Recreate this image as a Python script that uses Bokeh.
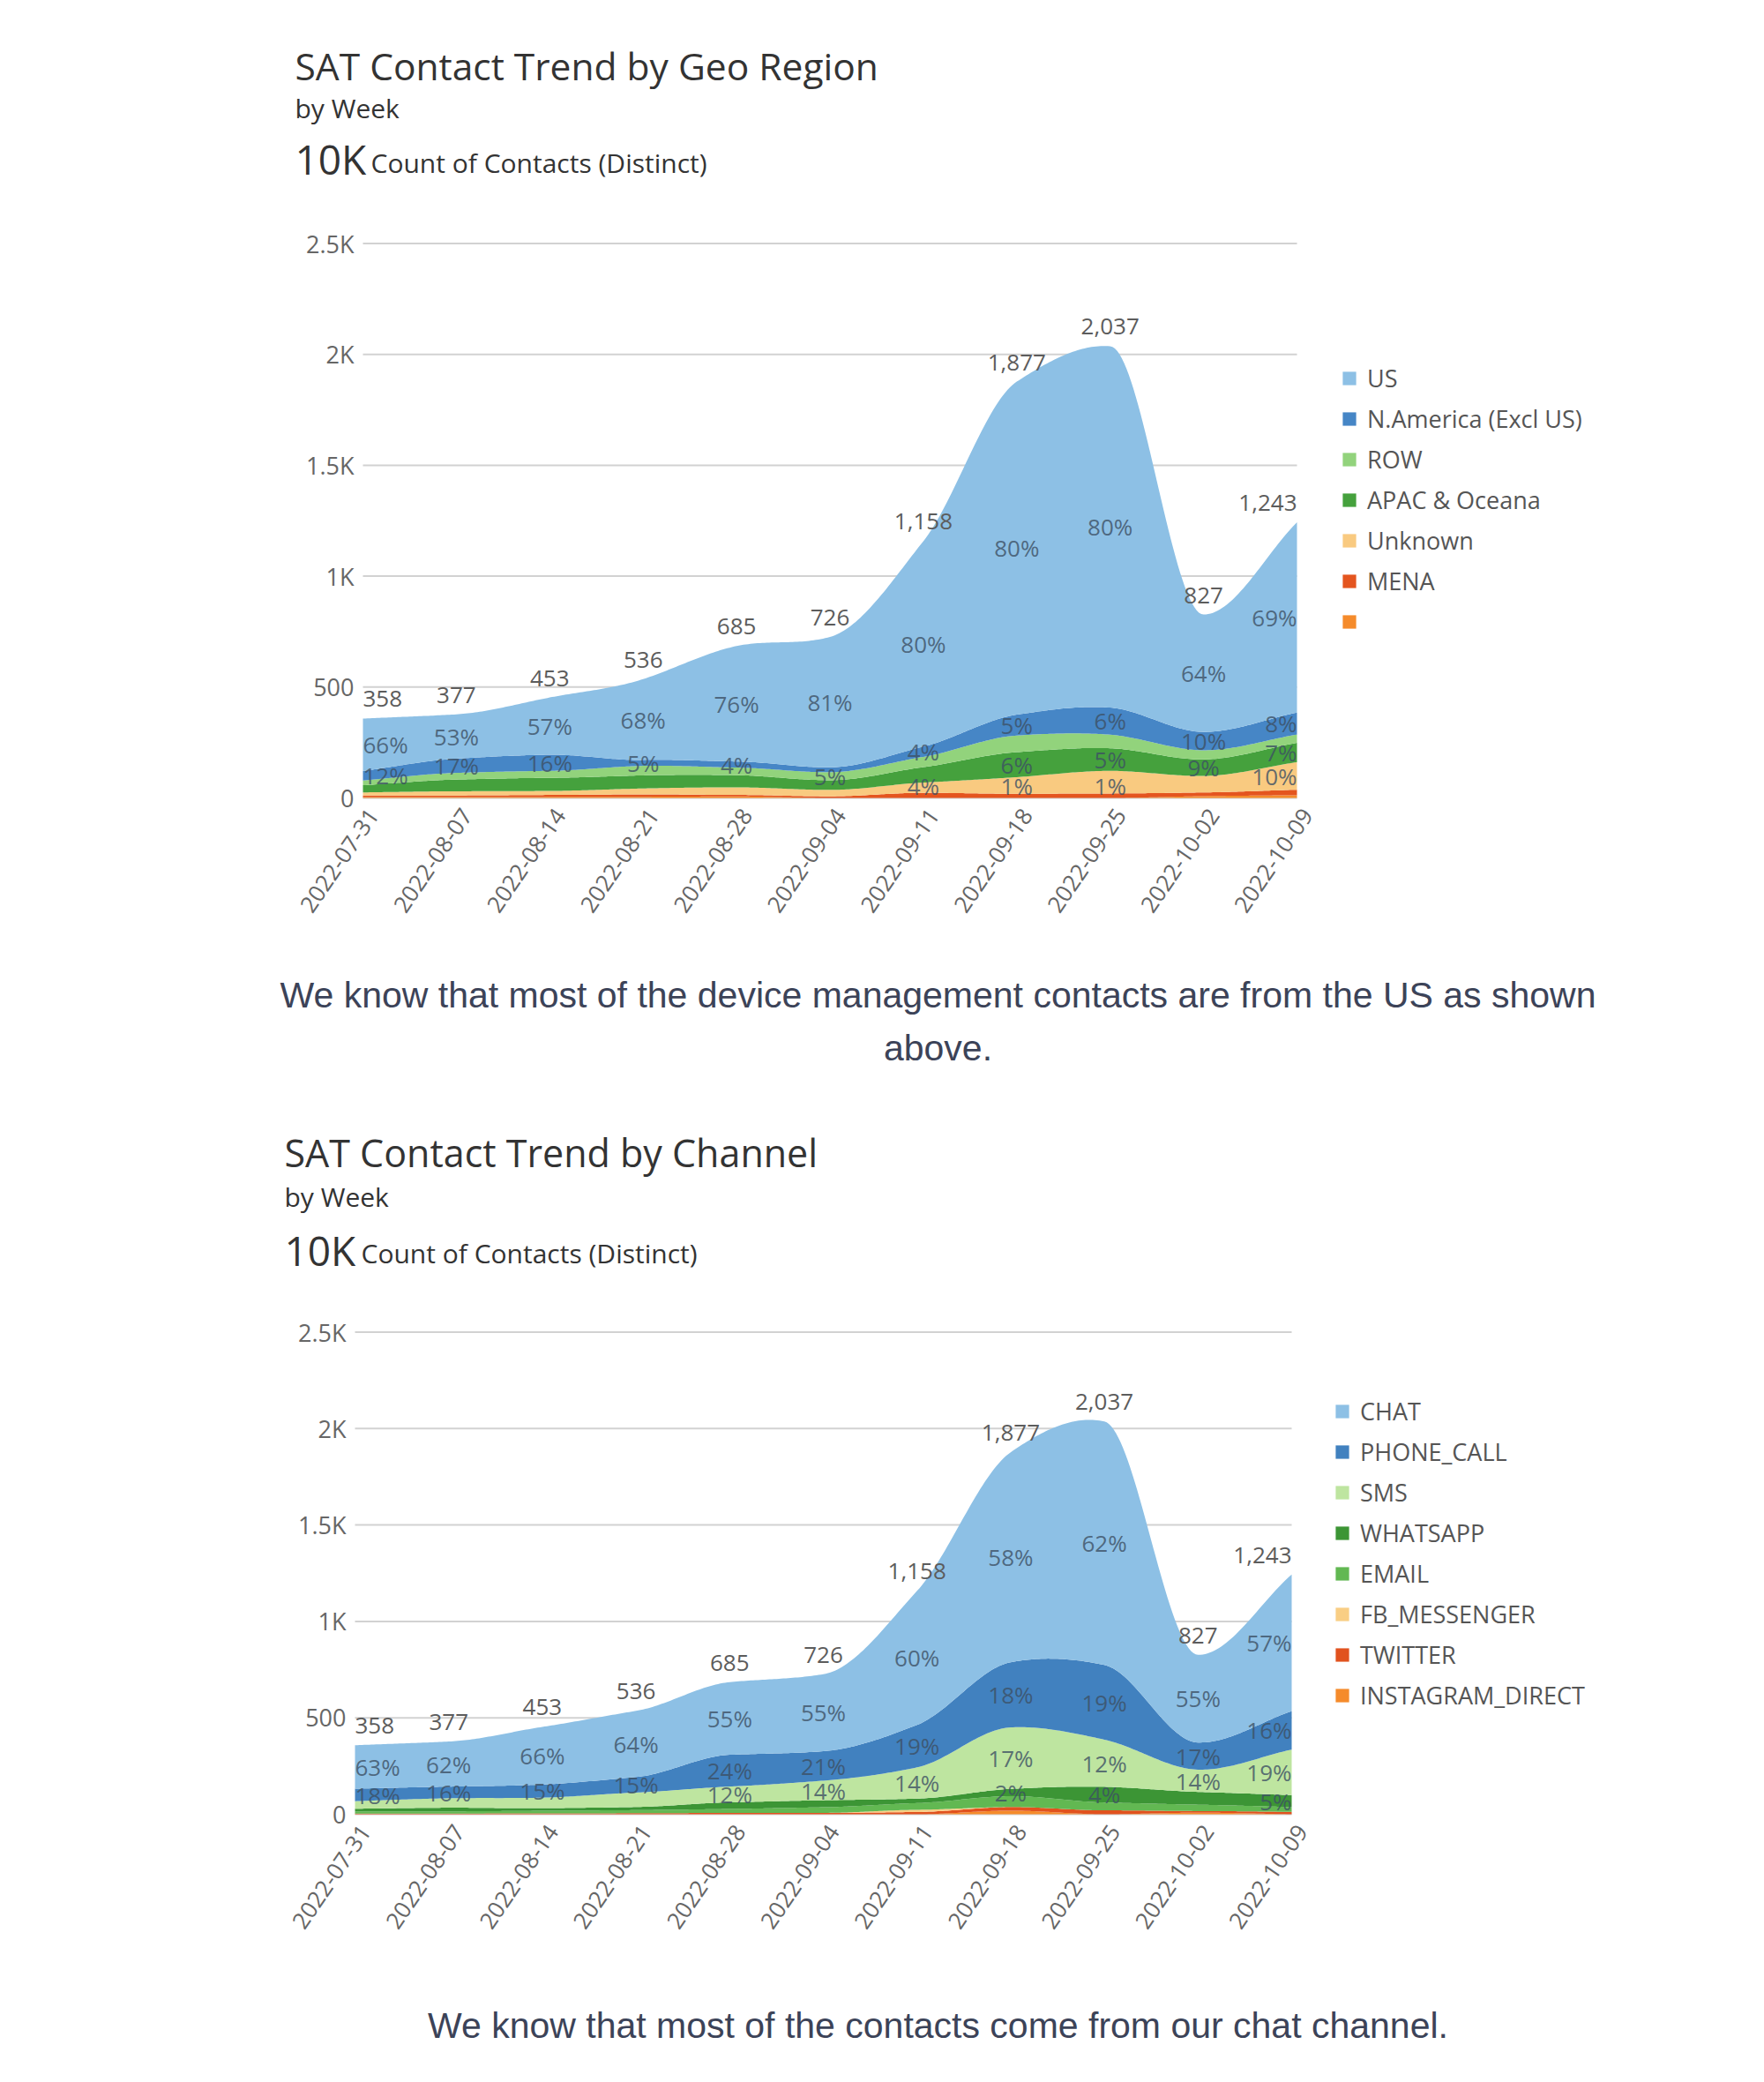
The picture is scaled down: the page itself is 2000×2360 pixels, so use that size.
import numpy as np
from bokeh.plotting import figure
from bokeh.models import Range1d, Label, Legend, LegendItem, ColumnDataSource
from bokeh.layouts import column
from bokeh.embed import file_html
from bokeh.resources import INLINE
from bokeh.core.properties import value, field

# ---------------- data ----------------
weeks = ["2022-07-31", "2022-08-07", "2022-08-14", "2022-08-21", "2022-08-28", "2022-09-04",
         "2022-09-11", "2022-09-18", "2022-09-25", "2022-10-02", "2022-10-09"]
totals = [358, 377, 453, 536, 685, 726, 1158, 1877, 2037, 827, 1243]

y_ticks = [0, 500, 1000, 1500, 2000, 2500]
y_tick_labels = ["0", "500", "1K", "1.5K", "2K", "2.5K"]

# Geo region shares (% of weekly total), legend order (top of stack first)
geo_names = ["US", "N.America (Excl US)", "ROW", "APAC & Oceana", "Unknown", "MENA", " "]
geo_us      = [66, 53, 57, 68, 76, 81, 80, 80, 80, 64, 69]
geo_na      = [12, 17, 16, 5, 4, 3, 4, 5, 6, 10, 8]
geo_row     = [6, 8, 7, 8, 5, 5, 4, 4, 3, 5, 3]
geo_apac    = [9, 14, 13, 11, 8, 6, 6, 6, 5, 9, 7]
geo_unknown = [4, 5, 4, 5, 5, 4, 4, 4, 5, 9, 10]
geo_mena    = [2, 2, 2, 2, 1, 1, 2, 1, 1, 2, 2]
geo_blank   = [1, 1, 1, 1, 1, 0, 0, 0, 0, 1, 1]
# data labels shown in the chart (None = not shown)
geo_us_lab      = [66, 53, 57, 68, 76, 81, 80, 80, 80, 64, 69]
geo_na_lab      = [12, 17, 16, 5, 4, None, 4, 5, 6, 10, 8]
geo_row_lab     = [None, None, None, None, None, 5, None, None, None, None, None]
geo_apac_lab    = [None, None, None, None, None, None, None, 6, 5, 9, 7]
geo_unknown_lab = [None, None, None, None, None, None, 4, None, None, None, 10]
geo_mena_lab    = [None, None, None, None, None, None, None, 1, 1, None, None]
geo_blank_lab   = [None] * 11

# Channel shares (% of weekly total), legend order
ch_names = ["CHAT", "PHONE_CALL", "SMS", "WHATSAPP", "EMAIL", "FB_MESSENGER", "TWITTER", "INSTAGRAM_DIRECT"]
ch_chat  = [63, 62, 66, 64, 55, 55, 60, 58, 62, 55, 57]
ch_phone = [18, 16, 15, 15, 24, 21, 19, 18, 19, 17, 16]
ch_sms   = [11, 13, 12, 14, 12, 14, 14, 17, 12, 14, 19]
ch_wa    = [4, 5, 3, 3, 5, 5, 2, 2, 4, 8, 5]
ch_email = [3, 3, 3, 3, 3, 4, 3, 3, 2, 4, 2]
ch_fb    = [0, 0, 0, 0, 0, 0, 1, 0, 0, 0, 0]
ch_tw    = [1, 1, 1, 1, 1, 1, 1, 1, 1, 1, 1]
ch_ig    = [0, 0, 0, 0, 0, 0, 0, 1, 0, 1, 0]
ch_chat_lab  = [63, 62, 66, 64, 55, 55, 60, 58, 62, 55, 57]
ch_phone_lab = [18, 16, 15, 15, 24, 21, 19, 18, 19, 17, 16]
ch_sms_lab   = [None, None, None, None, 12, 14, 14, 17, 12, 14, 19]
ch_wa_lab    = [None, None, None, None, None, None, None, 2, 4, None, 5]
ch_none_lab  = [None] * 11

geo_colors = ["#8dc0e5", "#4686c6", "#92d37c", "#45a13d", "#f9ca80", "#e4551f", "#f58b2b"]
ch_colors = ["#8dc0e5", "#4181bf", "#bee5a0", "#3c9535", "#62b852", "#f9ce84", "#e1521e", "#f58b2b"]

FONT = "Open Sans"
CAP_FONT = "Liberation Sans"
CAP_COLOR = "#3c4358"
TXT = "#333333"
TICK = "#666666"
PAGE_X0 = 0
FIG_W = 1984


def smooth(y, n=40):
    """Monotone cubic (Fritsch-Carlson) rendering of a series between its nodes."""
    y = np.asarray(y, float)
    k = len(y)
    d = np.diff(y)
    m = np.zeros(k)
    m[0], m[-1] = d[0], d[-1]
    for i in range(1, k - 1):
        if d[i - 1] * d[i] <= 0:
            m[i] = 0.0
        else:
            m[i] = 2.0 / (1.0 / d[i - 1] + 1.0 / d[i])
    for i in range(k - 1):
        if d[i] == 0:
            m[i] = 0.0
            m[i + 1] = 0.0
        else:
            a, b = m[i] / d[i], m[i + 1] / d[i]
            if a < 0:
                m[i] = 0.0
                a = 0
            if b < 0:
                m[i + 1] = 0.0
                b = 0
            s = a * a + b * b
            if s > 9:
                t = 3.0 / np.sqrt(s)
                m[i] = t * a * d[i]
                m[i + 1] = t * b * d[i]
    xs, ys = [], []
    for i in range(k - 1):
        t = np.linspace(0, 1, n, endpoint=False)
        h00 = 2 * t**3 - 3 * t**2 + 1
        h10 = t**3 - 2 * t**2 + t
        h01 = -2 * t**3 + 3 * t**2
        h11 = t**3 - t**2
        xs.append(i + t)
        ys.append(h00 * y[i] + h10 * m[i] + h01 * y[i + 1] + h11 * m[i + 1])
    xs.append(np.array([k - 1.0]))
    ys.append(np.array([y[-1]]))
    return np.concatenate(xs), np.maximum(np.concatenate(ys), 0)


def chart(series, fig_top, fig_h, x0_px, x1_px, y0_px, ytop_px, legend_px, legend_spacing,
          texts, label_floor):
    """All geometry given in page pixels; the plot frame covers the whole figure."""
    nweeks = len(weeks)
    xpu = (x1_px - x0_px) / (nweeks - 1)
    ypu = (y0_px - ytop_px) / y_ticks[-1]
    fig_left = PAGE_X0
    fig_bottom = fig_top + fig_h
    xr = Range1d((fig_left - x0_px) / xpu, (nweeks - 1) + (fig_left + FIG_W - x1_px) / xpu)
    yr = Range1d(-(fig_bottom - y0_px) / ypu, (y0_px - fig_top) / ypu)
    p = figure(width=FIG_W, height=fig_h, x_range=xr, y_range=yr,
               output_backend="svg", toolbar_location=None,
               min_border=0, min_border_left=0, min_border_right=0,
               min_border_top=0, min_border_bottom=0)
    p.outline_line_color = None
    p.background_fill_color = "white"
    p.border_fill_color = "white"
    p.axis.visible = False
    p.grid.visible = False

    # horizontal gridlines
    p.segment(x0=[0] * len(y_ticks), x1=[nweeks - 1] * len(y_ticks), y0=y_ticks, y1=y_ticks,
              line_color="#d2d2d2", line_width=2)

    tot = np.array(totals, float)
    base_s = None
    base_n = np.zeros(len(tot))
    rends = {}
    lx, ly, lt, la = [], [], [], []
    nlast = nweeks - 1
    for name, color, pct, labs in reversed(series):
        v = tot * np.array(pct, float) / 100.0
        xs, vs = smooth(v)
        if base_s is None:
            base_s = np.zeros_like(xs)
        top_s = base_s + vs
        r = p.varea(x=xs, y1=base_s, y2=top_s, fill_color=color, fill_alpha=1.0)
        rends[name] = r
        for i, l in enumerate(labs):
            if l is not None:
                lx.append(i)
                ly.append(max(base_n[i] + v[i] / 2.0, label_floor))
                lt.append(f"{l}%")
                la.append("left" if i == 0 else ("right" if i == nlast else "center"))
        base_s = top_s
        base_n = base_n + v

    pct_src = ColumnDataSource(dict(x=lx, y=ly, text=lt, align=la))
    p.text(x="x", y="y", text="text", source=pct_src, text_align=field("align"),
           text_baseline="middle", text_font=value(FONT), text_font_size="26px",
           text_color="#3d5064", text_alpha=0.8)

    tot_src = ColumnDataSource(dict(
        x=list(range(nweeks)), y=totals, text=[f"{t:,}" for t in totals],
        align=["left" if i == 0 else ("right" if i == nlast else "center") for i in range(nweeks)]))
    p.text(x="x", y="y", text="text", source=tot_src, text_align=field("align"),
           text_baseline="middle", y_offset=-22, text_font=value(FONT), text_font_size="26px",
           text_color="#5c5c5c")

    # y tick labels
    p.text(x=[0] * len(y_ticks), y=y_ticks, text=y_tick_labels, x_offset=-10,
           text_align="right", text_baseline="middle", text_font=value(FONT),
           text_font_size="27px", text_color=TICK)
    # x tick labels (rotated)
    p.text(x=list(range(nweeks)), y=[0] * nweeks, text=weeks, angle=0.97,
           x_offset=12, y_offset=15, text_align="right", text_baseline="middle",
           text_font=value(FONT), text_font_size="26px", text_color=TICK)

    lx_px, lbottom_px = legend_px
    legend = Legend(items=[LegendItem(label=s[0], renderers=[rends[s[0]]]) for s in series],
                    location=(lx_px - fig_left, fig_bottom - lbottom_px),
                    border_line_color=None, background_fill_alpha=0,
                    padding=0, margin=0, glyph_width=19, glyph_height=19, label_height=36,
                    spacing=legend_spacing, label_standoff=11, label_text_font=FONT,
                    label_text_font_size="27px", label_text_color="#555555")
    p.add_layout(legend)

    # texts placed by their vertical centre
    for (txt, px, py, size, color, font, align) in texts:
        p.add_layout(Label(x=px - fig_left, y=fig_bottom - py, x_units="screen", y_units="screen",
                           text=txt, text_font=font, text_font_size=size, text_color=color,
                           text_align=align, text_baseline="middle"))
    return p


geo_series = list(zip(geo_names, geo_colors,
                      [geo_us, geo_na, geo_row, geo_apac, geo_unknown, geo_mena, geo_blank],
                      [geo_us_lab, geo_na_lab, geo_row_lab, geo_apac_lab, geo_unknown_lab,
                       geo_mena_lab, geo_blank_lab]))
ch_series = list(zip(ch_names, ch_colors,
                     [ch_chat, ch_phone, ch_sms, ch_wa, ch_email, ch_fb, ch_tw, ch_ig],
                     [ch_chat_lab, ch_phone_lab, ch_sms_lab, ch_wa_lab, ch_none_lab,
                      ch_none_lab, ch_none_lab, ch_none_lab]))

# texts: (text, page x, page centre y, size, color, font, align)
p1_texts = [
    ("SAT Contact Trend by Geo Region", 334, 74, "42.5px", TXT, FONT, "left"),
    ("by Week", 334, 122, "30px", TXT, FONT, "left"),
    ("10K", 334, 179, "46px", TXT, FONT, "left"),
    ("Count of Contacts (Distinct)", 420, 184, "30px", TXT, FONT, "left"),
    ("We know that most of the device management contacts are from the US as shown", 1063, 1127,
     "41px", CAP_COLOR, CAP_FONT, "center"),
    ("above.", 1063, 1187, "41px", CAP_COLOR, CAP_FONT, "center"),
]
p2_texts = [
    ("SAT Contact Trend by Channel", 322, 1306, "43px", TXT, FONT, "left"),
    ("by Week", 322, 1356, "30px", TXT, FONT, "left"),
    ("10K", 322, 1416, "46px", TXT, FONT, "left"),
    ("Count of Contacts (Distinct)", 409, 1420, "30px", TXT, FONT, "left"),
    ("We know that most of the contacts come from our chat channel.", 1063, 2295,
     "41px", CAP_COLOR, CAP_FONT, "center"),
]

p1 = chart(geo_series, fig_top=0, fig_h=1236, x0_px=411, x1_px=1470, y0_px=904, ytop_px=275.5,
           legend_px=(1520, 722), legend_spacing=9, texts=p1_texts, label_floor=55)
p2 = chart(ch_series, fig_top=1236, fig_h=1108, x0_px=402, x1_px=1464, y0_px=2056, ytop_px=1509.5,
           legend_px=(1512, 1940), legend_spacing=9, texts=p2_texts, label_floor=50)

layout = column(p1, p2)
open("out.html", "w").write(file_html(layout, INLINE))
